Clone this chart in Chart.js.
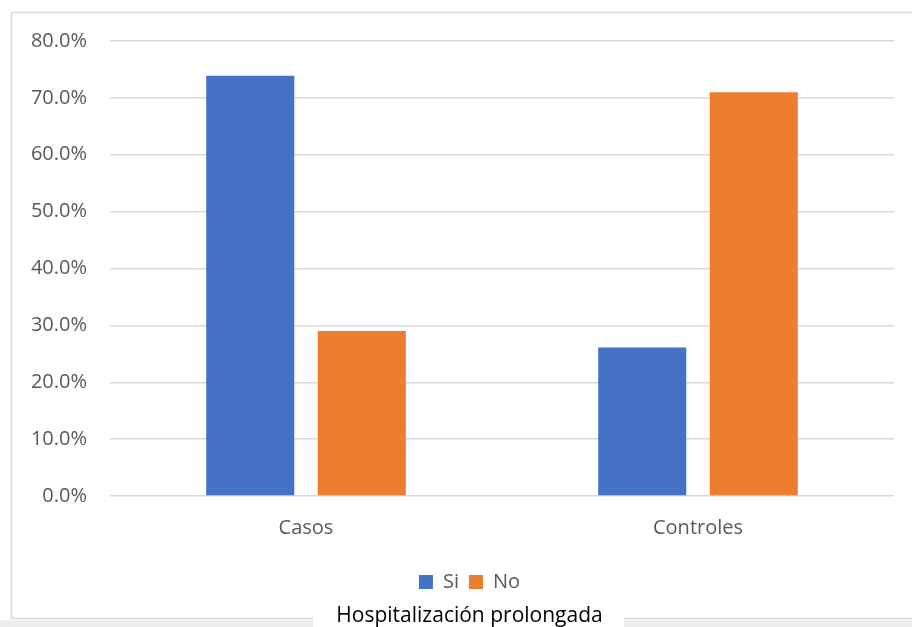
<!DOCTYPE html>
<html>
<head>
<meta charset="utf-8">
<script src="https://cdn.jsdelivr.net/npm/chart.js@4.4.1/dist/chart.umd.min.js"></script>
<style>
  html, body { margin: 0; padding: 0; background: #ffffff; overflow: hidden; }
  #wrap { position: relative; width: 912px; height: 627px; overflow: hidden; }
  canvas { display: block; }
</style>
</head>
<body>
<div id="wrap"><canvas id="c" width="940" height="627"></canvas></div>
<script>
// Hospitalización prolongada por grupo
const categories = ['Casos', 'Controles'];
const seriesNames = ['Si', 'No'];
const siValues = [73.9, 26.1];
const noValues = [29.0, 71.0];
const yTicks = [0, 10, 20, 30, 40, 50, 60, 70, 80];
const titleText = 'Hospitalización prolongada';

const BLUE = '#4472C4';
const ORANGE = '#ED7D31';
const TEXT = '#595959';
const FONT = "'Open Sans', 'Noto Sans', sans-serif";

// frame around the chart and a white patch behind the bottom title
const framePlugin = {
  id: 'frame',
  beforeDraw(chart) {
    const ctx = chart.ctx;
    ctx.save();
    ctx.fillStyle = '#ffffff';
    ctx.fillRect(0, 0, chart.width, chart.height);
    ctx.fillStyle = '#ededed';
    ctx.fillRect(0, 620, chart.width, chart.height - 620);
    ctx.strokeStyle = '#d9d9d9';
    ctx.lineWidth = 1.5;
    ctx.strokeRect(11.5, 12.5, chart.width - 20, 606);
    ctx.fillStyle = '#ffffff';
    ctx.fillRect(313, 604, 311, chart.height - 604);
    ctx.restore();
  }
};

new Chart(document.getElementById('c'), {
  type: 'bar',
  data: {
    labels: categories,
    datasets: [
      { label: seriesNames[0], data: siValues, backgroundColor: BLUE,
        categoryPercentage: 0.569, barPercentage: 0.79 },
      { label: seriesNames[1], data: noValues, backgroundColor: ORANGE,
        categoryPercentage: 0.569, barPercentage: 0.79 }
    ]
  },
  options: {
    responsive: false,
    animation: false,
    devicePixelRatio: 1,
    layout: { padding: { left: 11, right: 12, top: 41, bottom: 0 } },
    scales: {
      x: {
        grid: { display: false, drawTicks: false },
        border: { display: false },
        ticks: { color: TEXT, font: { family: FONT, size: 20 }, padding: 20 },
        afterFit(scale) { scale.height = 66; }
      },
      y: {
        min: 0, max: 80,
        afterBuildTicks(scale) { scale.ticks = yTicks.map(v => ({ value: v })); },
        grid: { color: '#d9d9d9', lineWidth: 1.5, drawTicks: false },
        border: { display: false },
        ticks: {
          color: TEXT, font: { family: FONT, size: 20 }, padding: 23,
          callback: v => v.toFixed(1) + '%'
        },
        afterFit(scale) { scale.width = 99; }
      },
      // empty margin on the right side of the plot
      yRight: {
        type: 'linear', position: 'right', min: 0, max: 80,
        grid: { display: false, drawTicks: false },
        border: { display: false },
        ticks: { display: false },
        afterFit(scale) { scale.width = 34; }
      }
    },
    plugins: {
      legend: {
        position: 'bottom',
        labels: {
          color: TEXT, font: { family: FONT, size: 20 },
          boxWidth: 14, boxHeight: 14, padding: 10
        }
      },
      title: {
        display: true, position: 'bottom', text: titleText,
        color: '#000000', font: { family: FONT, size: 21, weight: 'normal', lineHeight: 1.0 },
        padding: { top: 4, bottom: 0 }
      },
      tooltip: { enabled: false }
    }
  },
  plugins: [framePlugin]
});
</script>
</body>
</html>
